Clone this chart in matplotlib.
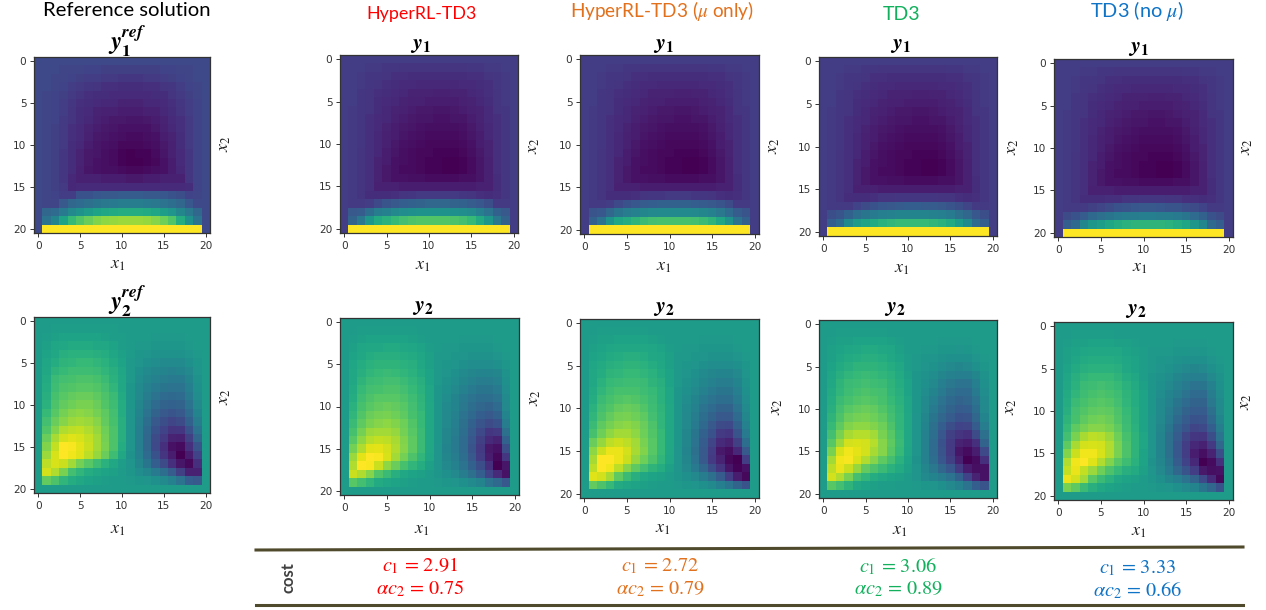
import numpy as np
import matplotlib
matplotlib.use('Agg')
import matplotlib.pyplot as plt

plt.rcParams['mathtext.fontset'] = 'stix'

W, H = 1266, 610

# cell values, scale 0-100
y1_ref = [
    [22]*21,
    [22,22,22,21,21,21,20,20,19,19,19,19,19,19,19,20,20,21,21,22,22],
    [22,22,21,21,20,19,18,18,17,17,16,16,16,17,17,18,19,20,21,22,22],
    [22,22,21,20,18,17,16,15,14,14,13,13,13,14,14,15,16,18,20,21,22],
    [22,21,20,19,17,15,14,13,13,12,12,12,12,12,13,13,15,17,19,21,22],
    [22,21,20,18,16,14,13,12,11,11,10,10,10,11,11,12,14,16,18,20,22],
    [22,21,20,18,15,13,12,10, 9, 9, 8, 8, 8, 9, 9,11,13,15,18,20,22],
    [22,21,20,17,15,13,11, 9, 8, 7, 7, 6, 6, 7, 8,10,12,14,17,20,22],
    [22,21,19,17,14,12,10, 8, 7, 6, 5, 5, 5, 5, 7, 9,11,14,17,20,22],
    [22,21,19,17,14,12, 9, 7, 6, 5, 4, 3, 3, 4, 5, 8,10,13,17,20,22],
    [22,21,19,17,13,11, 8, 6, 5, 4, 2, 2, 2, 3, 4, 7, 9,13,17,20,22],
    [22,21,19,16,13,10, 7, 6, 4, 3, 1, 0, 1, 1, 3, 6, 9,12,16,20,22],
    [22,21,19,16,13,10, 7, 5, 4, 3, 1, 0, 0, 1, 2, 5, 8,12,16,20,22],
    [22,21,19,16,13, 9, 6, 5, 4, 4, 3, 2, 2, 3, 4, 5, 8,11,16,20,22],
    [22,21,19,16,11, 9, 9, 9, 8, 8, 8, 7, 7, 8, 8, 9, 9, 9,16,20,22],
    [22,21,19,17,11,12,12,12,12,12,12,12,12,12,12,12,12,12,13,20,22],
    [22,21,20,18,18,25,25,27,28,28,29,29,29,28,28,27,25,24,20,21,22],
    [22,21,21,28,33,35,37,39,40,41,42,42,42,41,40,38,36,33,27,22,22],
    [22,33,35,41,47,51,55,58,60,61,62,62,62,61,59,56,52,46,40,33,22],
    [22,38,45,58,67,73,77,81,83,84,85,85,85,84,82,78,73,62,50,38,22],
    [22]+[100]*19+[22],
]

# the four solvers share the upper part of y1, only the bottom rows differ
y1_body = [
    [18]*21,
    [18,18,18,17,17,16,16,15,15,15,15,15,15,15,15,16,16,17,17,18,18],
    [18,18,17,16,16,15,14,14,13,13,13,13,13,13,13,14,14,15,16,17,18],
    [18,18,17,16,15,14,13,12,12,11,11,11,11,11,12,12,13,14,16,17,18],
    [18,18,16,15,14,13,12,11,10,10,10, 9, 9,10,10,11,12,14,15,17,18],
    [18,18,16,15,13,12,11,10, 9, 9, 8, 8, 8, 8, 9,10,11,13,15,17,18],
    [18,17,16,15,13,11,10, 9, 8, 7, 7, 6, 6, 7, 8, 9,10,12,15,16,18],
    [18,17,16,14,12,11, 9, 8, 7, 6, 6, 5, 5, 6, 6, 8,10,12,14,16,18],
    [18,17,16,14,12,10, 8, 7, 6, 5, 4, 4, 4, 4, 5, 7, 9,11,14,16,18],
    [18,17,16,14,11, 9, 8, 6, 5, 4, 3, 3, 3, 3, 4, 6, 8,11,14,16,18],
    [18,17,16,14,11, 9, 7, 5, 4, 3, 2, 2, 2, 2, 3, 5, 8,10,14,16,18],
    [18,17,15,14,11, 8, 6, 4, 3, 2, 2, 1, 1, 1, 2, 4, 7,10,14,16,18],
    [18,17,15,14,10, 8, 5, 4, 3, 2, 1, 1, 0, 0, 1, 3, 6, 9,14,16,18],
    [18,17,15,14,10, 7, 5, 3, 3, 2, 1, 1, 0, 0, 1, 3, 6, 9,14,16,18],
    [18,17,15,14,10, 7, 5, 5, 4, 4, 3, 3, 3, 3, 4, 4, 6, 9,13,16,18],
    [18,17,15,14, 9, 9, 9, 8, 8, 8, 8, 8, 8, 8, 8, 8, 9, 9,13,16,18],
]
bottom_hyper = [
    [18,17,15,13,13,13,14,15,16,17,17,17,17,17,16,15,14,13,14,16,18],
    [18,17,17,18,22,26,28,30,31,32,33,33,33,32,31,29,27,24,17,17,18],
    [18,28,29,36,42,44,47,49,50,51,51,51,51,50,49,47,43,38,31,28,18],
    [18,32,40,53,61,64,67,70,72,73,73,73,73,72,70,67,61,53,40,32,18],
    [18]+[100]*19+[18],
]
bottom_mu = [
    [18,17,15,13,13,13,14,15,16,16,17,17,17,16,16,15,14,13,14,16,18],
    [18,17,17,18,22,25,27,29,30,31,31,31,31,30,29,28,26,23,17,17,18],
    [18,26,27,33,39,42,44,46,47,48,48,48,48,47,46,44,40,35,29,26,18],
    [18,31,38,51,59,62,65,68,70,71,71,71,71,70,68,65,59,51,38,31,18],
    [18]+[100]*19+[18],
]
bottom_td3 = [
    [18,17,15,13,13,13,14,15,15,16,16,16,16,16,15,15,14,13,14,16,18],
    [18,17,17,17,20,23,25,27,28,29,30,30,29,29,28,26,24,21,17,17,18],
    [18,24,26,31,36,39,41,43,44,45,45,45,45,44,43,41,37,33,27,24,18],
    [18,30,35,48,55,58,61,64,66,67,67,67,67,66,64,61,55,48,35,30,18],
    [18]+[100]*19+[18],
]
bottom_nomu = [
    [18,17,15,13,13,13,14,14,15,15,16,16,16,15,15,14,14,13,14,16,18],
    [18,17,17,17,19,21,23,25,26,27,28,28,27,26,26,24,23,20,17,17,18],
    [18,23,25,29,34,37,39,41,42,42,43,43,42,42,41,39,35,31,25,23,18],
    [18,30,34,46,53,56,59,62,64,65,65,65,65,64,62,59,53,46,34,30,18],
    [18]+[100]*19+[18],
]

y2_ref = [
    [55]*21,
    [55,55,56,56,56,56,56,56,56,56,55,55,55,55,55,55,55,55,55,55,55],
    [55,56,57,58,58,58,58,58,57,56,56,55,55,55,54,54,54,54,55,55,55],
    [55,57,59,60,61,61,61,60,60,58,56,55,54,54,53,53,53,53,54,55,55],
    [55,58,60,63,64,64,64,63,62,59,57,55,53,52,51,51,51,51,52,54,55],
    [55,59,62,65,66,67,67,66,64,61,58,54,52,50,49,48,48,48,50,53,55],
    [55,60,65,67,69,69,69,68,66,63,59,54,50,48,46,45,44,45,47,52,55],
    [55,61,68,70,71,72,72,71,68,64,60,54,49,46,44,42,41,41,45,51,55],
    [55,62,69,72,73,74,74,73,70,66,60,53,48,44,41,39,38,38,43,50,55],
    [55,63,71,74,76,77,77,75,72,68,61,53,47,42,38,35,34,35,41,49,55],
    [55,64,72,76,78,80,80,77,73,69,62,53,46,40,35,32,31,32,38,47,55],
    [55,67,74,79,82,83,82,79,75,70,62,52,45,38,32,28,26,28,35,45,55],
    [55,70,77,82,85,86,85,82,76,71,63,52,44,36,28,24,21,23,31,42,55],
    [55,73,81,88,90,91,88,84,78,72,63,52,43,34,25,20,15,16,25,38,55],
    [55,77,87,93,95,94,91,86,79,72,63,52,43,33,23,17,10, 9,19,33,55],
    [55,81,91,100,99,96,92,86,80,72,62,52,43,33,22,14, 5, 3,14,26,55],
    [55,85,94,100,98,95,90,84,77,69,60,51,44,35,25,15, 8, 0, 8,20,55],
    [55,90,94,92,86,79,74,69,64,60,56,52,46,39,30,23,14, 6, 2,14,55],
    [55,93,88,80,70,66,62,60,58,57,55,53,49,46,41,36,29,19, 9, 9,55],
    [55,76,72,66,62,60,58,57,56,55,55,54,53,52,50,48,44,38,30,28,55],
    [55]*21,
]
y2_hyper = [
    [55]*21,
    [55,55,56,56,56,56,56,56,56,55,55,55,55,55,55,55,55,55,55,55,55],
    [55,56,57,58,58,58,58,58,57,56,55,55,55,55,54,54,54,54,55,55,55],
    [55,57,59,60,60,61,61,60,59,58,56,55,54,54,53,53,53,53,54,55,55],
    [55,58,60,62,63,63,63,62,61,59,57,54,54,53,52,51,51,51,52,54,55],
    [55,59,62,64,65,65,65,64,63,60,57,54,53,52,50,49,49,49,50,53,55],
    [55,60,63,66,67,68,67,66,64,61,58,54,52,50,48,46,45,45,46,51,55],
    [55,60,65,68,69,70,70,68,66,63,58,54,51,49,46,44,42,42,44,50,55],
    [55,61,67,70,71,72,72,70,67,64,59,53,50,47,44,41,39,39,41,49,55],
    [55,62,69,72,74,74,74,72,69,65,59,53,49,45,41,38,36,36,38,48,55],
    [55,64,71,74,76,77,76,74,70,66,60,53,48,45,40,36,33,32,35,47,55],
    [55,66,73,77,79,80,78,75,71,67,60,53,47,44,38,34,30,28,31,45,55],
    [55,68,75,80,82,83,81,78,73,67,60,53,47,43,37,31,26,23,25,42,55],
    [55,71,79,85,86,86,84,79,74,68,60,53,46,42,36,29,22,16,17,37,55],
    [55,74,83,89,91,90,87,81,75,68,60,53,46,41,35,27,19,12,10,31,55],
    [55,79,88,95,96,93,88,82,75,68,60,52,45,41,35,26,17, 7, 5,24,55],
    [55,85,96,100,99,94,86,79,72,66,59,52,46,42,36,28,18, 8, 2,16,55],
    [55,88,100,99,92,83,77,71,66,62,57,52,47,44,38,31,24,14, 0, 6,55],
    [55,92,88,82,73,68,63,60,58,57,55,53,50,47,42,37,30,20,12, 5,55],
    [55,74,70,66,61,59,58,57,56,55,55,54,53,52,50,48,45,38,34,27,55],
    [55]*21,
]
y2_mu = [
    [55]*21,
    [55,55,56,56,56,56,56,56,55,55,55,55,55,55,55,55,55,55,55,55,55],
    [55,56,57,57,58,58,58,58,57,56,55,55,55,55,54,54,54,54,55,55,55],
    [55,57,58,59,60,60,60,60,59,58,56,55,54,54,53,53,53,53,54,55,55],
    [55,58,59,61,62,63,63,62,60,59,57,54,54,53,52,51,51,51,52,54,55],
    [55,59,61,63,64,65,65,64,62,60,57,54,53,52,50,49,49,49,50,53,55],
    [55,60,62,65,66,67,67,66,64,61,58,54,52,50,48,46,45,45,47,52,55],
    [55,60,64,67,68,69,69,68,65,63,58,54,51,49,46,44,42,42,45,51,55],
    [55,61,66,69,71,71,71,69,67,64,59,53,50,47,44,41,39,39,43,50,55],
    [55,62,68,71,73,74,73,71,68,64,59,53,49,45,41,38,36,36,41,49,55],
    [55,64,70,73,76,77,76,73,69,65,60,53,48,44,38,35,32,32,38,48,55],
    [55,66,72,76,79,80,78,75,70,66,60,53,47,42,36,32,28,28,35,46,55],
    [55,68,75,79,82,83,81,77,72,66,60,53,47,41,34,28,23,22,31,44,55],
    [55,71,78,83,86,86,83,78,73,67,60,53,46,39,31,25,17,16,26,41,55],
    [55,77,84,90,92,90,86,80,74,67,60,53,46,38,29,21,12,10,19,36,55],
    [55,83,92,97,97,93,87,81,74,67,60,52,45,37,28,18, 7, 4,11,28,55],
    [55,87,100,100,97,92,84,78,72,66,59,52,46,38,28,17,10, 2, 0,18,55],
    [55,90,100,98,90,82,75,70,65,62,57,52,47,41,33,24,15, 6, 1, 5,55],
    [55,95,93,87,75,68,63,60,58,57,55,53,50,47,42,37,29,18, 8, 2,55],
    [55,76,72,67,61,59,58,57,56,55,55,54,53,52,50,48,43,38,32,26,55],
    [55]*21,
]
y2_td3 = [
    [55]*21,
    [55,55,56,56,56,56,56,56,55,55,55,55,55,55,55,55,55,55,55,55,55],
    [55,56,57,57,58,58,58,58,57,56,55,55,55,55,54,54,54,54,55,55,55],
    [55,57,58,59,60,61,61,60,59,57,55,55,54,54,53,53,52,53,54,55,55],
    [55,57,59,61,62,63,63,62,60,58,56,54,53,52,51,50,50,50,52,54,55],
    [55,58,61,63,65,65,65,64,62,60,56,54,52,51,49,47,46,47,50,53,55],
    [55,59,63,66,67,68,67,66,64,61,57,53,51,49,46,44,43,43,46,51,55],
    [55,60,65,68,69,70,69,68,65,62,58,53,50,47,43,40,38,38,43,50,55],
    [55,61,66,69,71,72,71,70,66,63,58,53,49,45,41,37,35,35,41,49,55],
    [55,62,68,71,73,74,73,71,67,64,59,53,48,43,38,34,32,33,38,48,55],
    [55,63,70,74,76,77,76,73,69,65,59,53,47,41,36,32,29,30,36,47,55],
    [55,65,72,77,79,80,78,75,70,66,60,52,46,39,33,29,25,26,33,45,55],
    [55,67,75,81,83,83,81,78,72,66,60,52,45,37,30,24,20,21,29,42,55],
    [55,70,80,87,89,89,86,80,74,67,60,52,44,36,27,19,15,14,23,37,55],
    [55,74,85,93,94,93,89,82,75,68,60,52,44,35,25,17,10, 8,14,32,55],
    [55,80,94,98,96,93,87,82,74,67,59,52,44,35,26,17, 6, 3, 8,22,55],
    [55,86,98,99,94,88,82,75,70,64,58,51,44,36,27,19, 9, 0, 3,14,55],
    [55,90,97,92,84,76,72,68,64,61,57,52,46,40,33,27,17, 8, 4, 5,55],
    [55,93,88,80,70,66,62,60,58,57,55,52,48,45,42,38,31,20,10, 5,55],
    [55,74,70,65,60,58,57,56,56,55,55,54,53,52,50,47,44,38,30,26,55],
    [55]*21,
]
y2_nomu = [
    [55]*21,
    [55,55,56,56,56,56,56,55,55,55,55,55,55,55,55,55,55,55,55,55,55],
    [55,56,57,57,58,58,58,57,57,56,55,55,55,55,54,54,54,54,55,55,55],
    [55,57,58,59,60,60,60,60,58,57,56,54,54,54,53,53,52,53,54,55,55],
    [55,57,59,61,62,62,62,61,59,58,56,54,53,52,51,50,50,50,52,54,55],
    [55,58,61,63,64,64,64,63,60,58,56,54,52,51,49,47,46,47,50,53,55],
    [55,59,63,66,67,67,67,65,62,60,56,53,51,49,46,44,43,43,47,51,55],
    [55,60,64,68,69,70,69,67,64,61,57,53,50,47,44,41,38,39,44,50,55],
    [55,61,66,69,71,72,71,69,65,62,58,53,49,45,42,38,35,35,42,49,55],
    [55,62,68,71,73,74,73,70,66,62,58,53,48,44,39,35,32,32,40,48,55],
    [55,63,70,73,75,76,75,72,67,63,58,53,48,42,37,32,29,29,37,47,55],
    [55,65,71,75,78,79,77,73,68,63,58,52,47,41,34,29,25,26,34,45,55],
    [55,67,75,79,82,82,80,75,69,64,58,52,46,39,31,26,21,22,30,42,55],
    [55,70,80,87,90,89,85,78,71,65,59,52,45,37,29,21,16,15,24,38,55],
    [55,75,87,93,94,93,88,80,72,65,59,52,45,37,27,18,11, 9,17,33,55],
    [55,81,92,98,98,94,88,80,72,65,58,52,45,37,27,18, 8, 4,10,24,55],
    [55,88,98,100,95,88,81,74,69,64,58,51,46,39,29,20,11, 0, 3,14,55],
    [55,91,97,91,85,78,72,67,63,61,57,52,47,41,33,26,18, 7, 4, 5,55],
    [55,97,93,86,74,68,64,60,58,57,55,53,50,46,43,38,32,22,12, 2,55],
    [55,80,75,68,63,60,58,57,56,55,55,54,53,52,50,48,45,39,33,25,55],
    [55]*21,
]

headers = ['Reference solution', 'HyperRL-TD3', 'HyperRL-TD3 ($\\mu$ only)', 'TD3', 'TD3 (no $\\mu$)']
header_colors = ['black', '#ff0000', '#e2711d', '#12b05c', '#0f73c6']
c1_vals = [2.91, 2.72, 3.06, 3.33]
c2_vals = [0.75, 0.79, 0.89, 0.66]
ticks = [0, 5, 10, 15, 20]

fig = plt.figure(figsize=(W/100, H/100), dpi=100)


def add_panel(box, data):
    l, r, t, b = box
    ax = fig.add_axes([l/W, 1 - b/H, (r - l)/W, (b - t)/H])
    ax.imshow(data, cmap='viridis', vmin=0, vmax=100, interpolation='nearest', aspect='auto')
    ax.set_xticks(ticks)
    ax.set_yticks(ticks)
    ax.tick_params(labelsize=7.6, length=3, width=0.7, pad=2.5, colors='#333333')
    for s in ax.spines.values():
        s.set_linewidth(0.9)
        s.set_color('#333333')
    return ax


def put(x, y, s, **kw):
    kw.setdefault('ha', 'center')
    kw.setdefault('va', 'center')
    fig.text(x/W, 1 - y/H, s, **kw)


panels = [
    # box, data, title pos, x1 label pos, x2 label pos, title, title size
    ((34, 210, 57, 233), y1_ref, (127, 41), (118, 264), (224, 144), r'$\boldsymbol{y}_{\boldsymbol{1}}^{\boldsymbol{ref}}$', 18),
    ((34, 210, 317, 493), y2_ref, (127, 301), (118, 529), (224, 397), r'$\boldsymbol{y}_{\boldsymbol{2}}^{\boldsymbol{ref}}$', 18),
    ((340, 518, 55, 233), y1_body + bottom_hyper, (421, 45), (423, 265), (533, 146), r'$\boldsymbol{y}_{\boldsymbol{1}}$', 16),
    ((340, 519, 318, 495), y2_hyper, (423, 307), (422, 529), (534, 398), r'$\boldsymbol{y}_{\boldsymbol{2}}$', 16),
    ((580, 759, 55, 234), y1_body + bottom_mu, (664, 45), (664, 266), (773, 146), r'$\boldsymbol{y}_{\boldsymbol{1}}$', 16),
    ((580, 759, 319, 498), y2_mu, (664, 308), (663, 528), (776, 407), r'$\boldsymbol{y}_{\boldsymbol{2}}$', 16),
    ((819, 997, 57, 236), y1_body + bottom_td3, (901, 45), (902, 268), (1012, 147), r'$\boldsymbol{y}_{\boldsymbol{1}}$', 16),
    ((819, 997, 320, 498), y2_td3, (895, 308), (900, 530), (1010, 407), r'$\boldsymbol{y}_{\boldsymbol{2}}$', 16),
    ((1054, 1233, 59, 237), y1_body + bottom_nomu, (1139, 48), (1140, 267), (1246, 147), r'$\boldsymbol{y}_{\boldsymbol{1}}$', 16),
    ((1054, 1233, 322, 500), y2_nomu, (1136, 310), (1139, 531), (1245, 402), r'$\boldsymbol{y}_{\boldsymbol{2}}$', 16),
]

for box, data, tpos, xpos, ypos, title, tsize in panels:
    add_panel(box, np.array(data))
    put(tpos[0], tpos[1], title, fontsize=tsize, color='black')
    put(xpos[0], xpos[1], '$x_1$', fontsize=13, color='#222222')
    put(ypos[0], ypos[1], '$x_2$', fontsize=13, color='#222222', rotation=90)

header_pos = [(127, 11), (422, 14), (662, 11), (902, 15), (1137, 11)]
header_size = [14.6, 12.9, 13.7, 14, 14.4]
for (x, y), s, c, fs in zip(header_pos, headers, header_colors, header_size):
    put(x, y, s, fontsize=fs, color=c, family='Lato')

# cost table at the bottom
line_ax = fig.add_axes([0, 0, 1, 1])
line_ax.set_xlim(0, W)
line_ax.set_ylim(H, 0)
line_ax.axis('off')
line_ax.plot([256, 1243], [550, 547], color='#4f4a2c', lw=2.2)
line_ax.plot([256, 1243], [605, 605], color='#4f4a2c', lw=2.2)

put(288, 578, 'cost', fontsize=12, rotation=90, color='#404040', family='Lato', fontweight='bold')
cost_x = [420, 660, 898, 1138]
cost_y1 = [566, 566, 567, 568]
cost_y2 = [589, 589, 589, 591]
for i in range(4):
    c = header_colors[i + 1]
    put(cost_x[i], cost_y1[i], '$c_1$ = %.2f' % c1_vals[i], fontsize=14.6, color=c, family='STIXGeneral')
    put(cost_x[i], cost_y2[i], '$\\alpha c_2$ = %.2f' % c2_vals[i], fontsize=14.6, color=c, family='STIXGeneral')

fig.savefig('out.png', dpi=100)
